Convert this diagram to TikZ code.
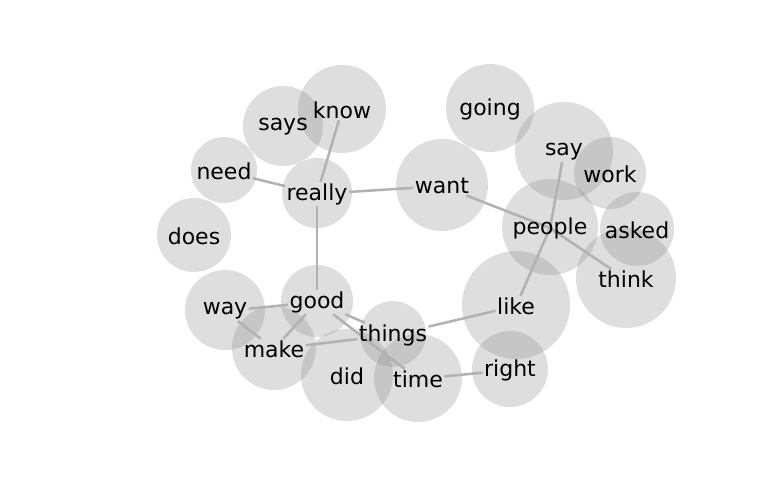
\documentclass[tikz,border=0pt]{standalone}
\usepackage{fontspec}
\setmainfont{DejaVu Sans}
\usepackage{tikz}
\usetikzlibrary{positioning}
\pgfdeclarelayer{bubbles}
\pgfdeclarelayer{edges}
\pgfsetlayers{bubbles,edges,main}

\begin{document}
\begin{tikzpicture}[
  x=0.75pt, y=-0.75pt,
  bubble/.style = {circle, draw=none, fill=gray, fill opacity=0.26,
                   inner sep=0pt},
  word/.style   = {inner sep=1pt, font=\fontsize{16.5}{19}\selectfont},
  link/.style   = {draw=black!30, line width=1.9pt}
]
\useasboundingbox (0,0) rectangle (768,500);

% bubbles and words: name / x / y / radius
\foreach \w/\x/\y/\r in {
  know/342/110/44, says/283/127/40, need/224/171/33, really/317/194/35,
  does/194/236/37, want/442/186/46, going/490/109/44, say/564/152/49,
  work/610/174/36, people/550/228/48, asked/637/230/37, think/626/279/50,
  like/516/306/54, right/510/370/38, good/317/302/36, way/225/311/40,
  make/274/349/42, things/393/335/33, did/347/376/46, time/418/379/44} {
  \begin{pgfonlayer}{bubbles}
    \node[bubble, minimum size=\r*1.5pt] (\w-bubble) at (\x,\y-1) {};
  \end{pgfonlayer}
  \node[word] (\w) at (\x,\y) {\w};
}

\begin{pgfonlayer}{edges}
\draw[link] (know) -- (really);
\draw[link] (need) -- (really);
\draw[link] (really) -- (want);
\draw[link] (really) -- (good);
\draw[link] (want) -- (people.center);
\draw[link] (say) -- (people.center);
\draw[link] (people.center) -- (think);
\draw[link] (people.center) -- (like);
\draw[link] (like) -- (things);
\draw[link] (good) -- (way);
\draw[link] (good) -- (make);
\draw[link] (good) -- (things);
\draw[link] (good) -- (time);
\draw[link] (way) -- (make);
\draw[link] (make) -- (things);
\draw[link] (time) -- (right);
\end{pgfonlayer}
\end{tikzpicture}
\end{document}
